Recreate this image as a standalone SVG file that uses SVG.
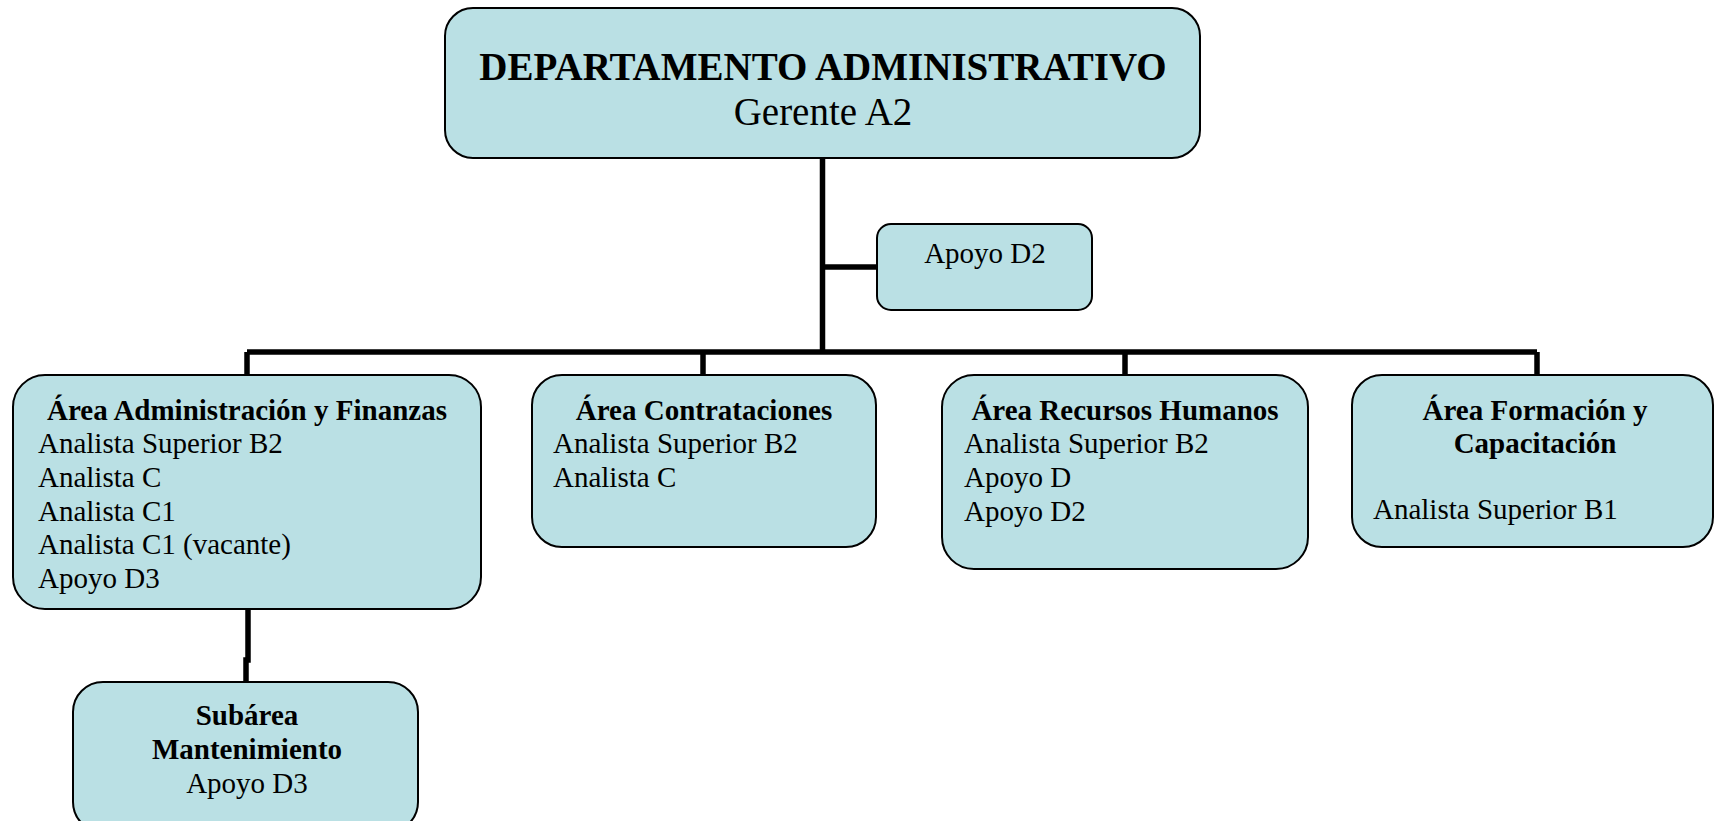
<svg xmlns="http://www.w3.org/2000/svg" width="1715" height="821" viewBox="0 0 1715 821">
<style>
.box{fill:#BAE0E4;stroke:#000;stroke-width:2}
.conn{fill:none;stroke:#000;stroke-width:5.5}
text{font-family:"Liberation Serif","Times New Roman",serif;fill:#000}
.b{font-weight:bold;font-size:29px}
.t{font-size:29px}
.c{text-anchor:middle}
.big{font-size:39px}
</style>
<rect width="1715" height="821" fill="#fff"/>
<g id="connectors">
<path class="conn" d="M822.5,158 V352"/>
<path class="conn" d="M822.5,267 H877"/>
<path class="conn" d="M247,352 H1537"/>
<path class="conn" d="M247,352 V375"/>
<path class="conn" d="M703,352 V375"/>
<path class="conn" d="M1125,352 V375"/>
<path class="conn" d="M1537,352 V375"/>
<path class="conn" d="M248,609 V660 H246 V682"/>
</g>
<g id="n-dept">
<rect class="box" x="445" y="8" width="755" height="150" rx="28"/>
<text class="c big" x="823" y="80" font-weight="bold">DEPARTAMENTO ADMINISTRATIVO</text>
<text class="c big" x="823" y="125">Gerente A2</text>
</g>
<g id="n-apoyo">
<rect class="box" x="877" y="224" width="215" height="86" rx="14"/>
<text class="c t" x="985" y="263">Apoyo D2</text>
</g>
<g id="n-admfin">
<rect class="box" x="13" y="375" width="468" height="234" rx="32"/>
<text class="c b" x="247" y="420">Área Administración y Finanzas</text>
<text class="t" x="38" y="453">Analista Superior B2</text>
<text class="t" x="38" y="487">Analista C</text>
<text class="t" x="38" y="521">Analista C1</text>
<text class="t" x="38" y="554">Analista C1 (vacante)</text>
<text class="t" x="38" y="588">Apoyo D3</text>
</g>
<g id="n-contrat">
<rect class="box" x="532" y="375" width="344" height="172" rx="30"/>
<text class="c b" x="704" y="420">Área Contrataciones</text>
<text class="t" x="553" y="453">Analista Superior B2</text>
<text class="t" x="553" y="487">Analista C</text>
</g>
<g id="n-rrhh">
<rect class="box" x="942" y="375" width="366" height="194" rx="32"/>
<text class="c b" x="1125" y="420">Área Recursos Humanos</text>
<text class="t" x="964" y="453">Analista Superior B2</text>
<text class="t" x="964" y="487">Apoyo D</text>
<text class="t" x="964" y="521">Apoyo D2</text>
</g>
<g id="n-formac">
<rect class="box" x="1352" y="375" width="361" height="172" rx="30"/>
<text class="c b" x="1535" y="420">Área Formación y</text>
<text class="c b" x="1535" y="453">Capacitación</text>
<text class="t" x="1373" y="519">Analista Superior B1</text>
</g>
<g id="n-mant">
<rect class="box" x="73" y="682" width="345" height="150" rx="30"/>
<text class="c b" x="247" y="725">Subárea</text>
<text class="c b" x="247" y="759">Mantenimiento</text>
<text class="c t" x="247" y="793">Apoyo D3</text>
</g>
</svg>
